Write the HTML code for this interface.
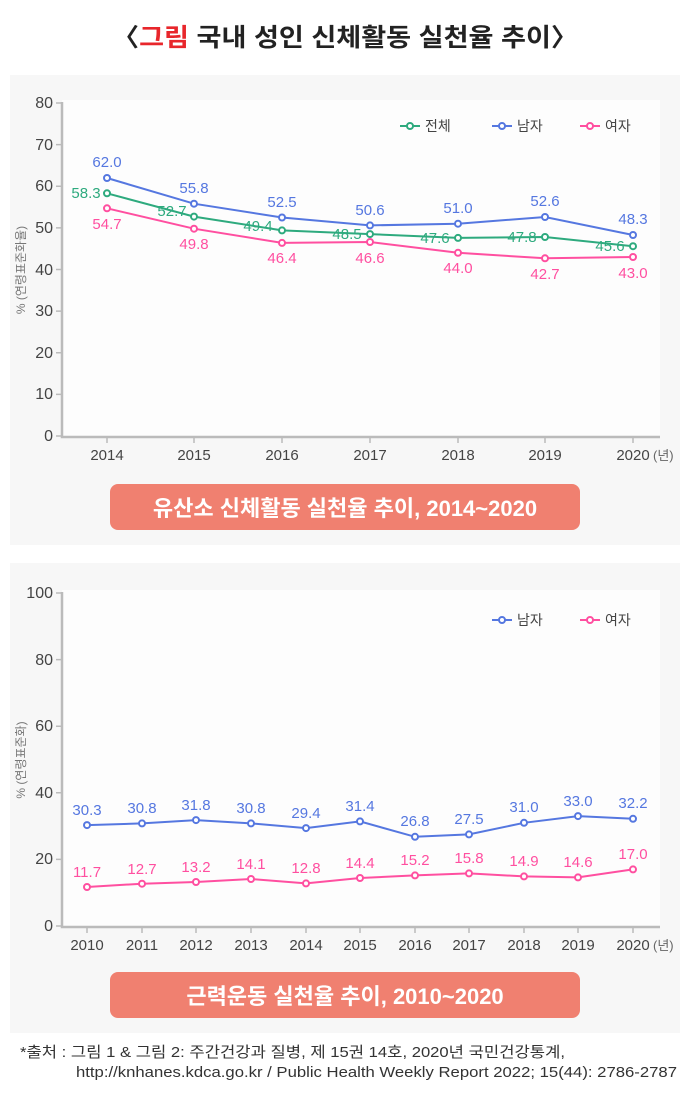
<!DOCTYPE html>
<html><head><meta charset="utf-8"><style>
body{margin:0;background:#fff;width:690px;height:1101px;overflow:hidden;font-family:"Liberation Sans","Noto Sans CJK KR",sans-serif}
text{font-family:"Liberation Sans","Noto Sans CJK KR",sans-serif}
</style></head><body>
<svg width="690" height="1101" viewBox="0 0 690 1101" xmlns="http://www.w3.org/2000/svg">
<text x="112" y="46" font-size="25" font-weight="bold" fill="#222" textLength="466" lengthAdjust="spacingAndGlyphs">〈<tspan fill="#e8262b">그림</tspan> 국내 성인 신체활동 실천율 추이〉</text>
<rect x="10" y="75" width="670" height="470" fill="#f7f7f7"/>
<rect x="62" y="100" width="598" height="336" fill="#fdfdfd"/>
<g stroke="#bbb" stroke-width="2.5" fill="none"><path d="M62 102V437H660"/></g>
<g stroke="#bbb" stroke-width="1.5">
<path d="M56 436H62M56 394.4H62M56 352.7H62M56 311.1H62M56 269.5H62M56 227.9H62M56 186.2H62M56 144.6H62M56 103H62"/>
<path d="M107 437V443M194 437V443M282 437V443M370 437V443M458 437V443M545 437V443M633 437V443"/>
</g>
<g font-size="16" fill="#444" text-anchor="end">
<text x="53" y="441">0</text><text x="53" y="399">10</text><text x="53" y="358">20</text><text x="53" y="316">30</text><text x="53" y="275">40</text><text x="53" y="233">50</text><text x="53" y="191">60</text><text x="53" y="150">70</text><text x="53" y="108">80</text>
</g>
<g font-size="15" fill="#444" text-anchor="middle">
<text x="107" y="460">2014</text><text x="194" y="460">2015</text><text x="282" y="460">2016</text><text x="370" y="460">2017</text><text x="458" y="460">2018</text><text x="545" y="460">2019</text><text x="633" y="460">2020</text>
</g>
<text x="653" y="460" font-size="13" fill="#666">(년)</text>
<text transform="translate(25,270) rotate(-90)" text-anchor="middle" font-size="12" fill="#777">% (연령표준화율)</text>
<g fill="none" stroke-width="2">
<polyline stroke="#5577e0" points="107,178 194,203.7 282,217.5 370,225.4 458,223.7 545,217 633,235"/>
<polyline stroke="#2eaa7e" points="107,193.3 194,216.6 282,230.4 370,234.1 458,237.9 545,237 633,246.2"/>
<polyline stroke="#ff4fa0" points="107,208.3 194,228.7 282,242.9 370,242 458,252.8 545,258.3 633,257"/>
</g>
<g fill="#fff" stroke-width="2">
<g stroke="#5577e0"><circle cx="107" cy="178" r="3"/><circle cx="194" cy="203.7" r="3"/><circle cx="282" cy="217.5" r="3"/><circle cx="370" cy="225.4" r="3"/><circle cx="458" cy="223.7" r="3"/><circle cx="545" cy="217" r="3"/><circle cx="633" cy="235" r="3"/></g>
<g stroke="#2eaa7e"><circle cx="107" cy="193.3" r="3"/><circle cx="194" cy="216.6" r="3"/><circle cx="282" cy="230.4" r="3"/><circle cx="370" cy="234.1" r="3"/><circle cx="458" cy="237.9" r="3"/><circle cx="545" cy="237" r="3"/><circle cx="633" cy="246.2" r="3"/></g>
<g stroke="#ff4fa0"><circle cx="107" cy="208.3" r="3"/><circle cx="194" cy="228.7" r="3"/><circle cx="282" cy="242.9" r="3"/><circle cx="370" cy="242" r="3"/><circle cx="458" cy="252.8" r="3"/><circle cx="545" cy="258.3" r="3"/><circle cx="633" cy="257" r="3"/></g>
</g>
<g font-size="15" text-anchor="middle">
<g fill="#5577e0"><text x="107" y="167">62.0</text><text x="194" y="193">55.8</text><text x="282" y="207">52.5</text><text x="370" y="215">50.6</text><text x="458" y="213">51.0</text><text x="545" y="206">52.6</text><text x="633" y="224">48.3</text></g>
<g fill="#2eaa7e"><text x="86" y="198">58.3</text><text x="172" y="216">52.7</text><text x="258" y="231">49.4</text><text x="347" y="239">48.5</text><text x="435" y="243">47.6</text><text x="522" y="242">47.8</text><text x="610" y="251">45.6</text></g>
<g fill="#ff4fa0"><text x="107" y="229">54.7</text><text x="194" y="249">49.8</text><text x="282" y="263">46.4</text><text x="370" y="263">46.6</text><text x="458" y="273">44.0</text><text x="545" y="279">42.7</text><text x="633" y="278">43.0</text></g>
</g>
<g font-size="14" fill="#444">
<line x1="400" y1="126" x2="420" y2="126" stroke="#2eaa7e" stroke-width="2"/><circle cx="410" cy="126" r="3" fill="#fff" stroke="#2eaa7e" stroke-width="2"/><text x="425" y="131">전체</text>
<line x1="492" y1="126" x2="512" y2="126" stroke="#5577e0" stroke-width="2"/><circle cx="502" cy="126" r="3" fill="#fff" stroke="#5577e0" stroke-width="2"/><text x="517" y="131">남자</text>
<line x1="580" y1="126" x2="600" y2="126" stroke="#ff4fa0" stroke-width="2"/><circle cx="590" cy="126" r="3" fill="#fff" stroke="#ff4fa0" stroke-width="2"/><text x="605" y="131">여자</text>
</g>
<rect x="110" y="484" width="470" height="46" rx="8" fill="#f08070"/>
<text x="345" y="516" text-anchor="middle" font-size="22" font-weight="bold" fill="#fff">유산소 신체활동 실천율 추이, 2014~2020</text>

<rect x="10" y="563" width="670" height="470" fill="#f7f7f7"/>
<rect x="62" y="590" width="598" height="336" fill="#fdfdfd"/>
<path d="M62 592V927H660" stroke="#bbb" stroke-width="2.5" fill="none"/>
<g stroke="#bbb" stroke-width="1.5">
<path d="M56 926H62M56 859.4H62M56 792.8H62M56 726.2H62M56 659.6H62M56 593H62"/>
<path d="M87 927V933M142 927V933M196 927V933M251 927V933M306 927V933M360 927V933M415 927V933M469 927V933M524 927V933M578 927V933M633 927V933"/>
</g>
<g font-size="16" fill="#444" text-anchor="end">
<text x="53" y="931">0</text><text x="53" y="864">20</text><text x="53" y="798">40</text><text x="53" y="731">60</text><text x="53" y="665">80</text><text x="53" y="598">100</text>
</g>
<g font-size="15" fill="#444" text-anchor="middle">
<text x="87" y="950">2010</text><text x="142" y="950">2011</text><text x="196" y="950">2012</text><text x="251" y="950">2013</text><text x="306" y="950">2014</text><text x="360" y="950">2015</text><text x="415" y="950">2016</text><text x="469" y="950">2017</text><text x="524" y="950">2018</text><text x="578" y="950">2019</text><text x="633" y="950">2020</text>
</g>
<text x="653" y="950" font-size="13" fill="#666">(년)</text>
<text transform="translate(25,760) rotate(-90)" text-anchor="middle" font-size="12" fill="#777">% (연령표준화)</text>
<g fill="none" stroke-width="2">
<polyline stroke="#5577e0" points="87,825.1 142,823.4 196,820.1 251,823.4 306,828.1 360,821.4 415,836.8 469,834.4 524,822.8 578,816.1 633,818.8"/>
<polyline stroke="#ff4fa0" points="87,887 142,883.7 196,882 251,879 306,883.4 360,878 415,875.4 469,873.4 524,876.4 578,877.4 633,869.4"/>
</g>
<g fill="#fff" stroke-width="2">
<g stroke="#5577e0"><circle cx="87" cy="825.1" r="3"/><circle cx="142" cy="823.4" r="3"/><circle cx="196" cy="820.1" r="3"/><circle cx="251" cy="823.4" r="3"/><circle cx="306" cy="828.1" r="3"/><circle cx="360" cy="821.4" r="3"/><circle cx="415" cy="836.8" r="3"/><circle cx="469" cy="834.4" r="3"/><circle cx="524" cy="822.8" r="3"/><circle cx="578" cy="816.1" r="3"/><circle cx="633" cy="818.8" r="3"/></g>
<g stroke="#ff4fa0"><circle cx="87" cy="887" r="3"/><circle cx="142" cy="883.7" r="3"/><circle cx="196" cy="882" r="3"/><circle cx="251" cy="879" r="3"/><circle cx="306" cy="883.4" r="3"/><circle cx="360" cy="878" r="3"/><circle cx="415" cy="875.4" r="3"/><circle cx="469" cy="873.4" r="3"/><circle cx="524" cy="876.4" r="3"/><circle cx="578" cy="877.4" r="3"/><circle cx="633" cy="869.4" r="3"/></g>
</g>
<g font-size="15" text-anchor="middle">
<g fill="#5577e0"><text x="87" y="815">30.3</text><text x="142" y="813">30.8</text><text x="196" y="810">31.8</text><text x="251" y="813">30.8</text><text x="306" y="818">29.4</text><text x="360" y="811">31.4</text><text x="415" y="826">26.8</text><text x="469" y="824">27.5</text><text x="524" y="812">31.0</text><text x="578" y="806">33.0</text><text x="633" y="808">32.2</text></g>
<g fill="#ff4fa0"><text x="87" y="877">11.7</text><text x="142" y="874">12.7</text><text x="196" y="872">13.2</text><text x="251" y="869">14.1</text><text x="306" y="873">12.8</text><text x="360" y="868">14.4</text><text x="415" y="865">15.2</text><text x="469" y="863">15.8</text><text x="524" y="866">14.9</text><text x="578" y="867">14.6</text><text x="633" y="859">17.0</text></g>
</g>
<g font-size="14" fill="#444">
<line x1="492" y1="620" x2="512" y2="620" stroke="#5577e0" stroke-width="2"/><circle cx="502" cy="620" r="3" fill="#fff" stroke="#5577e0" stroke-width="2"/><text x="517" y="625">남자</text>
<line x1="580" y1="620" x2="600" y2="620" stroke="#ff4fa0" stroke-width="2"/><circle cx="590" cy="620" r="3" fill="#fff" stroke="#ff4fa0" stroke-width="2"/><text x="605" y="625">여자</text>
</g>
<rect x="110" y="972" width="470" height="46" rx="8" fill="#f08070"/>
<text x="345" y="1004" text-anchor="middle" font-size="22" font-weight="bold" fill="#fff">근력운동 실천율 추이, 2010~2020</text>

<text x="20" y="1057" font-size="15" fill="#333" textLength="545" lengthAdjust="spacingAndGlyphs">*출처 : 그림 1 &amp; 그림 2: 주간건강과 질병, 제 15권 14호, 2020년 국민건강통계,</text>
<text x="76" y="1077" font-size="15" fill="#333" textLength="601" lengthAdjust="spacingAndGlyphs">http://knhanes.kdca.go.kr / Public Health Weekly Report 2022; 15(44): 2786-2787</text>
</svg>
</body></html>
